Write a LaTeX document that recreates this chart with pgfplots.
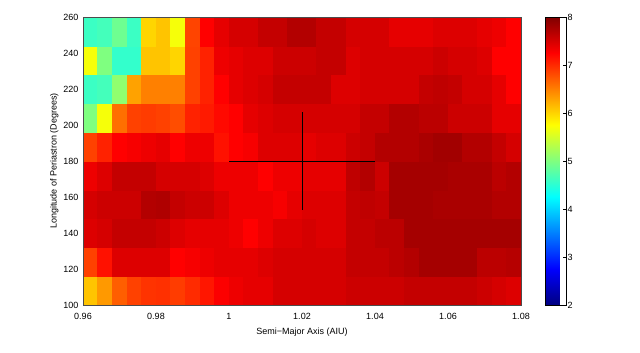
\documentclass[border=0pt]{standalone}
\usepackage{fontspec}
\setmainfont{Liberation Sans}
\usepackage{pgfplots}
\pgfplotsset{compat=1.18}

\begin{document}
\begin{tikzpicture}
\path[use as bounding box] (0pt,0pt) rectangle (640pt,353pt);
\begin{axis}[
    at={(83pt,48pt)}, anchor=south west,
    scale only axis,
    width=438pt, height=288pt,
    xmin=0.96, xmax=1.08,
    ymin=100, ymax=260,
    xtick={0.96,0.98,1,1.02,1.04,1.06,1.08},
    ytick={100,120,...,260},
    xticklabels={0.96,0.98,1,1.02,1.04,1.06,1.08},
    tick style={draw=none},
    axis line style={gray!60!black},
    axis on top,
    font=\fontsize{9}{11}\selectfont,
    /pgf/number format/assume math mode=true,
    xticklabel style={yshift=-5pt},
    yticklabel style={xshift=-1pt},
    xlabel={Semi−Major Axis (AIU)},
    ylabel={Longitude of Periastron (Degrees)},
    xlabel style={yshift=-1pt},
    ylabel style={yshift=-2pt},
    colormap/jet,
    point meta min=2, point meta max=8,
    colorbar,
    colorbar style={
        at={(parent axis.north east)}, anchor=north west,
        xshift=16pt,
        width=20.5pt, height=288pt,
        ytick={2,3,...,8},
        ytick pos=right, yticklabel pos=right,
        yticklabel style={xshift=-2pt},
        tick align=inside,
        major tick length=3pt,
        tick style={draw=black},
        axis line style={black},
        font=\fontsize{9}{11}\selectfont,
        /pgf/number format/assume math mode=true,
    },
]
\addplot[matrix plot*, mesh/cols=30, point meta=explicit] table[row sep=\\, meta=c] {
x y c\\
0.962 108 6.10\\ 0.966 108 6.35\\ 0.970 108 6.70\\ 0.974 108 6.87\\ 0.978 108 6.95\\ 0.982 108 6.97\\ 0.986 108 6.90\\ 0.990 108 7.00\\ 0.994 108 7.12\\ 0.998 108 7.27\\
1.002 108 7.35\\ 1.006 108 7.40\\ 1.010 108 7.40\\ 1.014 108 7.50\\ 1.018 108 7.50\\ 1.022 108 7.50\\ 1.026 108 7.50\\ 1.030 108 7.50\\ 1.034 108 7.55\\ 1.038 108 7.55\\
1.042 108 7.55\\ 1.046 108 7.55\\ 1.050 108 7.60\\ 1.054 108 7.60\\ 1.058 108 7.60\\ 1.062 108 7.60\\ 1.066 108 7.60\\ 1.070 108 7.55\\ 1.074 108 7.50\\ 1.078 108 7.45\\
0.962 124 6.87\\ 0.966 124 7.15\\ 0.970 124 7.45\\ 0.974 124 7.45\\ 0.978 124 7.45\\ 0.982 124 7.45\\ 0.986 124 7.25\\ 0.990 124 7.30\\ 0.994 124 7.35\\ 0.998 124 7.40\\
1.002 124 7.40\\ 1.006 124 7.40\\ 1.010 124 7.45\\ 1.014 124 7.50\\ 1.018 124 7.50\\ 1.022 124 7.50\\ 1.026 124 7.50\\ 1.030 124 7.50\\ 1.034 124 7.60\\ 1.038 124 7.60\\
1.042 124 7.60\\ 1.046 124 7.65\\ 1.050 124 7.70\\ 1.054 124 7.78\\ 1.058 124 7.78\\ 1.062 124 7.78\\ 1.066 124 7.78\\ 1.070 124 7.65\\ 1.074 124 7.65\\ 1.078 124 7.68\\
0.962 140 7.45\\ 0.966 140 7.50\\ 0.970 140 7.60\\ 0.974 140 7.60\\ 0.978 140 7.60\\ 0.982 140 7.55\\ 0.986 140 7.45\\ 0.990 140 7.40\\ 0.994 140 7.40\\ 0.998 140 7.40\\
1.002 140 7.35\\ 1.006 140 7.25\\ 1.010 140 7.35\\ 1.014 140 7.45\\ 1.018 140 7.45\\ 1.022 140 7.50\\ 1.026 140 7.45\\ 1.030 140 7.45\\ 1.034 140 7.60\\ 1.038 140 7.60\\
1.042 140 7.65\\ 1.046 140 7.65\\ 1.050 140 7.78\\ 1.054 140 7.78\\ 1.058 140 7.78\\ 1.062 140 7.78\\ 1.066 140 7.78\\ 1.070 140 7.78\\ 1.074 140 7.78\\ 1.078 140 7.78\\
0.962 156 7.50\\ 0.966 156 7.55\\ 0.970 156 7.55\\ 0.974 156 7.55\\ 0.978 156 7.70\\ 0.982 156 7.72\\ 0.986 156 7.60\\ 0.990 156 7.55\\ 0.994 156 7.55\\ 0.998 156 7.45\\
1.002 156 7.35\\ 1.006 156 7.35\\ 1.010 156 7.35\\ 1.014 156 7.30\\ 1.018 156 7.40\\ 1.022 156 7.45\\ 1.026 156 7.45\\ 1.030 156 7.45\\ 1.034 156 7.60\\ 1.038 156 7.63\\
1.042 156 7.60\\ 1.046 156 7.78\\ 1.050 156 7.78\\ 1.054 156 7.78\\ 1.058 156 7.75\\ 1.062 156 7.75\\ 1.066 156 7.75\\ 1.070 156 7.75\\ 1.074 156 7.70\\ 1.078 156 7.70\\
0.962 172 7.35\\ 0.966 172 7.45\\ 0.970 172 7.60\\ 0.974 172 7.60\\ 0.978 172 7.60\\ 0.982 172 7.50\\ 0.986 172 7.50\\ 0.990 172 7.50\\ 0.994 172 7.45\\ 0.998 172 7.35\\
1.002 172 7.35\\ 1.006 172 7.35\\ 1.010 172 7.25\\ 1.014 172 7.35\\ 1.018 172 7.35\\ 1.022 172 7.40\\ 1.026 172 7.40\\ 1.030 172 7.40\\ 1.034 172 7.63\\ 1.038 172 7.70\\
1.042 172 7.55\\ 1.046 172 7.78\\ 1.050 172 7.78\\ 1.054 172 7.78\\ 1.058 172 7.78\\ 1.062 172 7.75\\ 1.066 172 7.75\\ 1.070 172 7.75\\ 1.074 172 7.65\\ 1.078 172 7.70\\
0.962 188 6.87\\ 0.966 188 7.05\\ 0.970 188 7.25\\ 0.974 188 7.30\\ 0.978 188 7.35\\ 0.982 188 7.40\\ 0.986 188 7.25\\ 0.990 188 7.35\\ 0.994 188 7.35\\ 0.998 188 7.15\\
1.002 188 7.25\\ 1.006 188 7.30\\ 1.010 188 7.45\\ 1.014 188 7.45\\ 1.018 188 7.45\\ 1.022 188 7.40\\ 1.026 188 7.45\\ 1.030 188 7.45\\ 1.034 188 7.55\\ 1.038 188 7.60\\
1.042 188 7.70\\ 1.046 188 7.70\\ 1.050 188 7.70\\ 1.054 188 7.75\\ 1.058 188 7.80\\ 1.062 188 7.80\\ 1.066 188 7.70\\ 1.070 188 7.70\\ 1.074 188 7.60\\ 1.078 188 7.50\\
0.962 204 5.00\\ 0.966 204 5.70\\ 0.970 204 6.60\\ 0.974 204 6.87\\ 0.978 204 6.90\\ 0.982 204 6.87\\ 0.986 204 6.80\\ 0.990 204 7.05\\ 0.994 204 7.10\\ 0.998 204 7.20\\
1.002 204 7.25\\ 1.006 204 7.40\\ 1.010 204 7.45\\ 1.014 204 7.50\\ 1.018 204 7.50\\ 1.022 204 7.50\\ 1.026 204 7.50\\ 1.030 204 7.50\\ 1.034 204 7.50\\ 1.038 204 7.60\\
1.042 204 7.60\\ 1.046 204 7.70\\ 1.050 204 7.70\\ 1.054 204 7.65\\ 1.058 204 7.65\\ 1.062 204 7.55\\ 1.066 204 7.55\\ 1.070 204 7.55\\ 1.074 204 7.40\\ 1.078 204 7.40\\
0.962 220 4.60\\ 0.966 220 4.65\\ 0.970 220 5.10\\ 0.974 220 6.30\\ 0.978 220 6.50\\ 0.982 220 6.50\\ 0.986 220 6.50\\ 0.990 220 6.87\\ 0.994 220 7.05\\ 0.998 220 7.25\\
1.002 220 7.40\\ 1.006 220 7.45\\ 1.010 220 7.50\\ 1.014 220 7.60\\ 1.018 220 7.60\\ 1.022 220 7.60\\ 1.026 220 7.60\\ 1.030 220 7.45\\ 1.034 220 7.45\\ 1.038 220 7.50\\
1.042 220 7.50\\ 1.046 220 7.50\\ 1.050 220 7.50\\ 1.054 220 7.60\\ 1.058 220 7.63\\ 1.062 220 7.60\\ 1.066 220 7.50\\ 1.070 220 7.50\\ 1.074 220 7.40\\ 1.078 220 7.25\\
0.962 236 5.70\\ 0.966 236 5.00\\ 0.970 236 4.55\\ 0.974 236 4.55\\ 0.978 236 6.10\\ 0.982 236 6.10\\ 0.986 236 6.00\\ 0.990 236 6.87\\ 0.994 236 7.05\\ 0.998 236 7.35\\
1.002 236 7.40\\ 1.006 236 7.45\\ 1.010 236 7.45\\ 1.014 236 7.55\\ 1.018 236 7.55\\ 1.022 236 7.55\\ 1.026 236 7.60\\ 1.030 236 7.60\\ 1.034 236 7.45\\ 1.038 236 7.50\\
1.042 236 7.50\\ 1.046 236 7.50\\ 1.050 236 7.50\\ 1.054 236 7.50\\ 1.058 236 7.55\\ 1.062 236 7.50\\ 1.066 236 7.50\\ 1.070 236 7.45\\ 1.074 236 7.25\\ 1.078 236 7.25\\
0.962 252 4.60\\ 0.966 252 4.65\\ 0.970 252 4.90\\ 0.974 252 4.60\\ 0.978 252 6.00\\ 0.982 252 6.10\\ 0.986 252 5.70\\ 0.990 252 6.85\\ 0.994 252 7.25\\ 0.998 252 7.40\\
1.002 252 7.50\\ 1.006 252 7.50\\ 1.010 252 7.60\\ 1.014 252 7.60\\ 1.018 252 7.70\\ 1.022 252 7.70\\ 1.026 252 7.60\\ 1.030 252 7.60\\ 1.034 252 7.50\\ 1.038 252 7.50\\
1.042 252 7.50\\ 1.046 252 7.40\\ 1.050 252 7.40\\ 1.054 252 7.40\\ 1.058 252 7.45\\ 1.062 252 7.45\\ 1.066 252 7.45\\ 1.070 252 7.40\\ 1.074 252 7.35\\ 1.078 252 7.25\\
};
% best-fit cross
\addplot[black, line width=0.6pt] coordinates {(1.0,180) (1.04,180)};
\addplot[black, line width=0.6pt] coordinates {(1.02,153) (1.02,207)};
\end{axis}
\end{tikzpicture}
\end{document}
